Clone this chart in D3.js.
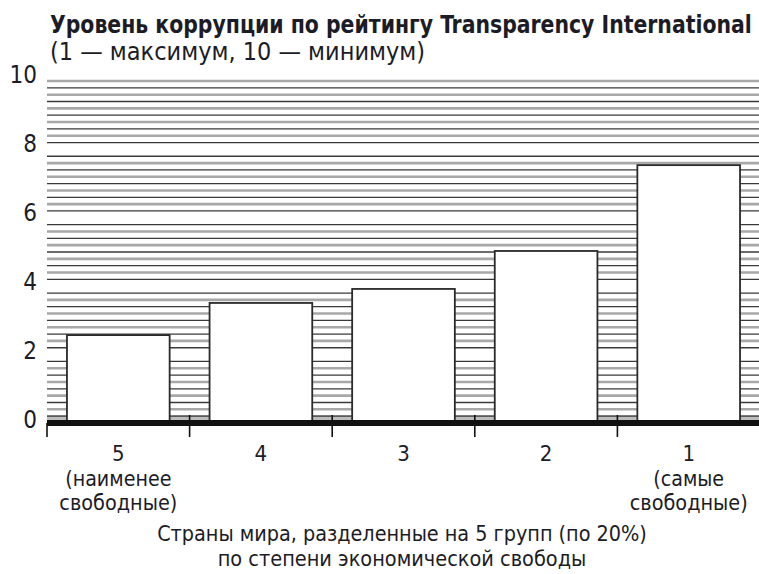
<!DOCTYPE html>
<html>
    <head>
        <meta charset="utf-8">
        <script src="https://d3js.org/d3.v7.min.js"></script>
        <style>
            body{margin:0;background:#fff;}
            text{font-family:"Liberation Sans Narrow","DejaVu Sans Condensed","Arial Narrow",sans-serif;fill:#1c1c26;}
        </style>
    </head>
    <body>
        <svg height="574" width="759" id="chart"></svg>
        <script>
            // groups of countries by economic freedom (5 = least free, 1 = most free)
            const groups=["5","4","3","2","1"];
            const groupNotes=[["(наименее","свободные)"],[],[],[],["(самые","свободные)"]];
            // Transparency International corruption score per group
            const corruption=[2.57, 3.51, 3.92, 5.03, 7.54];
            const yTicks=[0,2,4,6,8,10];
            const titleLines=["Уровень коррупции по рейтингу Transparency International","(1 — максимум, 10 — минимум)"];
            const xTitleLines=["Страны мира, разделенные на 5 групп (по 20%)","по степени экономической свободы"];

            let svg=d3.select("#chart");
            let width=+svg.attr("width");

            let x=d3.scaleBand()
                .domain(groups)
                .range([47, 760])
                .paddingInner(0.28)
                .paddingOuter(0.14);
            let y=d3.scaleLinear()
                .domain([0,10])
                .range([423, 81]);

            // text squeezed horizontally to the width it has in the printed chart
            let narrowText=function(parent, str, px, py, w, size, anchor, bold){
                let g=parent.append("g");
                let t=g.append("text")
                    .attr("text-anchor",anchor)
                    .style("font-size",size+"px")
                    .style("font-weight",bold ? "bold" : "normal")
                    .text(str);
                let len=t.node().getComputedTextLength();
                let s=Math.min(1, w/len);
                g.attr("transform","translate("+px+","+py+") scale("+s+",1)");
                return t;
            }

            // background hatching, every 0.2, gaps where the even tick labels sit
            let hatch=d3.range(1,51).map(i=>({i:i, v:i*0.2}))
                .filter(d=>!(d.i%10==0 && d.i<50));
            svg.append("rect")
                .attr("x",47).attr("y",y(0)-8)
                .attr("width",width-47).attr("height",8)
                .style("fill","#bdbdbd");
            svg.append("g").selectAll("line")
                .data(hatch)
                .join("line")
                .attr("x1",47).attr("x2",width)
                .attr("y1",d=>y(d.v)).attr("y2",d=>y(d.v))
                .style("stroke",d=>d.i%2 ? "#3a3a3a" : "#a8a8a8")
                .style("stroke-width",d=>d.i%2 ? 1.3 : 2.6);

            // bars
            svg.append("g").selectAll("rect")
                .data(corruption)
                .join("rect")
                .attr("x",(d,i)=>x(groups[i]))
                .attr("width",x.bandwidth())
                .attr("y",d=>y(d))
                .attr("height",d=>y(0)-y(d))
                .style("fill","#fff")
                .style("stroke","#2a2a2a")
                .style("stroke-width",1.8);

            // x axis: thick baseline plus separators between groups
            svg.append("line")
                .attr("x1",47).attr("x2",width)
                .attr("y1",y(0)).attr("y2",y(0))
                .style("stroke","#111").style("stroke-width",6);
            svg.append("g").selectAll("line")
                .data(groups)
                .join("line")
                .attr("x1",d=>x(d)-x.step()*x.paddingOuter()).attr("x2",d=>x(d)-x.step()*x.paddingOuter())
                .attr("y1",(d,i)=>i==0 ? y(0) : y(0)-8).attr("y2",y(0)+14)
                .style("stroke","#111").style("stroke-width",1.6);

            let cx=d=>x(d)+x.bandwidth()/2;
            let xl=svg.append("g");
            xl.selectAll("text.grp")
                .data(groups)
                .join("text")
                .attr("class","grp")
                .attr("text-anchor","middle")
                .style("font-size","22px")
                .attr("x",cx).attr("y",461)
                .text(d=>d);
            groups.forEach((g,i)=>{
                groupNotes[i].forEach((t,j)=>{
                    narrowText(xl, t, cx(g), 486+j*24, t.length*11.8, 22, "middle", false);
                });
            });

            // y labels
            svg.append("g").style("font-size","24px").attr("text-anchor","end")
                .selectAll("text")
                .data(yTicks)
                .join("text")
                .attr("x",37)
                .attr("y",d=>y(d)+5-d*0.3)
                .text(d=>d);

            // titles
            narrowText(svg, titleLines[0], 50, 33, 702, 25, "start", true);
            narrowText(svg, titleLines[1], 50, 60, 390, 25, "start", false);
            [490, 371].forEach((w,j)=>{
                narrowText(svg, xTitleLines[j], 402, 541+j*25, w, 21.5, "middle", false);
            });
        </script>
    </body>
</html>
